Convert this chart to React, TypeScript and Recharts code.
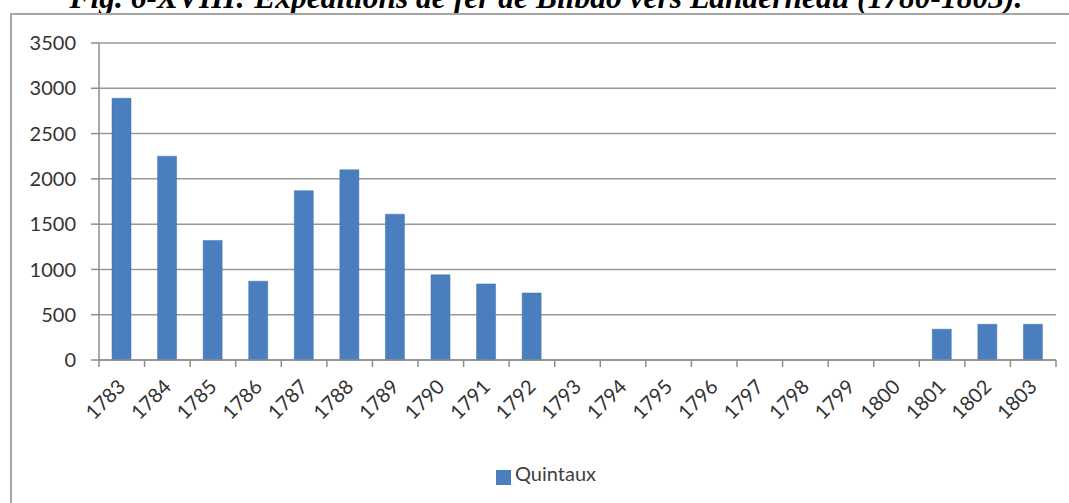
import { Bar, BarChart, CartesianGrid, Legend, XAxis, YAxis } from "recharts";

// années (catégories)
const years = [
  "1783", "1784", "1785", "1786", "1787", "1788", "1789", "1790", "1791", "1792", "1793",
  "1794", "1795", "1796", "1797", "1798", "1799", "1800", "1801", "1802", "1803",
];

// quintaux expédiés par année
const quintaux = [
  2890, 2250, 1320, 870, 1870, 2100, 1610, 940, 840, 740, 0,
  0, 0, 0, 0, 0, 0, 0, 340, 395, 395,
];

const yTicks = [0, 500, 1000, 1500, 2000, 2500, 3000, 3500];

const data = years.map((year, i) => ({ year, Quintaux: quintaux[i] }));

const W = 1069;
const H = 503;
const LEFT = 99;
const RIGHT = 13;
const BAND = (W - LEFT - RIGHT) / years.length;
const FONT = "Lato, 'Open Sans', sans-serif";

// tick de l'axe X : libellé incliné + petits traits entre les catégories
function YearTick(props: any) {
  const { x, y, payload, index } = props;
  const last = index === years.length - 1;
  return (
    <g>
      <line x1={x - BAND / 2} y1={y} x2={x - BAND / 2} y2={y + 7} stroke="#8c8c8c" strokeWidth={1.5} />
      {last && <line x1={x + BAND / 2} y1={y} x2={x + BAND / 2} y2={y + 7} stroke="#8c8c8c" strokeWidth={1.5} />}
      <text
        x={x + 5}
        y={y + 28}
        textAnchor="end"
        transform={`rotate(-45 ${x + 5} ${y + 28})`}
        fontSize={20}
        fontFamily={FONT}
        fill="#333"
      >
        {payload.value}
      </text>
    </g>
  );
}

export default function App() {
  return (
    <div style={{ position: "absolute", left: 0, top: 0, width: W, height: H, background: "#fff", overflow: "hidden" }}>
      {/* titre (coupé en haut, comme dans la source) */}
      <div
        style={{
          position: "absolute",
          left: 546,
          top: -18,
          transform: "translateX(-50%)",
          whiteSpace: "nowrap",
          fontFamily: "'Liberation Serif', 'Times New Roman', serif",
          fontWeight: "bold",
          fontStyle: "italic",
          fontSize: 31.5,
          lineHeight: "31.5px",
          color: "#000",
        }}
      >
        Fig. 6-XVIII: Expéditions de fer de Bilbao vers Landerneau (1780-1803).
      </div>
      {/* cadre */}
      <div
        style={{
          position: "absolute",
          left: 10,
          top: 13,
          width: W,
          height: H,
          borderLeft: "2px solid #a6a6a6",
          borderTop: "2px solid #a6a6a6",
        }}
      />
      <div style={{ position: "absolute", left: 0, top: 0 }}>
        <BarChart width={W} height={H} data={data} margin={{ top: 43, right: RIGHT, left: 0, bottom: 0 }} barSize={19}>
          <CartesianGrid vertical={false} stroke="#999" strokeWidth={1.5} />
          <XAxis
            dataKey="year"
            interval={0}
            height={103}
            tickLine={false}
            tickSize={0}
            tickMargin={0}
            axisLine={{ stroke: "#8c8c8c", strokeWidth: 1.5 }}
            tick={<YearTick />}
          />
          <YAxis
            width={LEFT}
            domain={[0, 3500]}
            ticks={yTicks}
            interval={0}
            tickSize={8}
            tickMargin={15}
            axisLine={{ stroke: "#8c8c8c", strokeWidth: 1.5 }}
            tickLine={{ stroke: "#8c8c8c", strokeWidth: 1.5 }}
            tick={{ fontSize: 20, fontFamily: FONT, fill: "#333" }}
          />
          <Legend
            verticalAlign="bottom"
            iconType="square"
            iconSize={15}
            formatter={(v) => <span style={{ color: "#404040", fontSize: 20, fontFamily: FONT }}>{v}</span>}
            wrapperStyle={{ height: 40, top: 461, left: 0, width: W, paddingLeft: 33, paddingRight: 0, boxSizing: "border-box" }}
          />
          <Bar dataKey="Quintaux" fill="#4a7ebe" stroke="#3f72b0" strokeWidth={0.5} isAnimationActive={false} />
        </BarChart>
      </div>
    </div>
  );
}
